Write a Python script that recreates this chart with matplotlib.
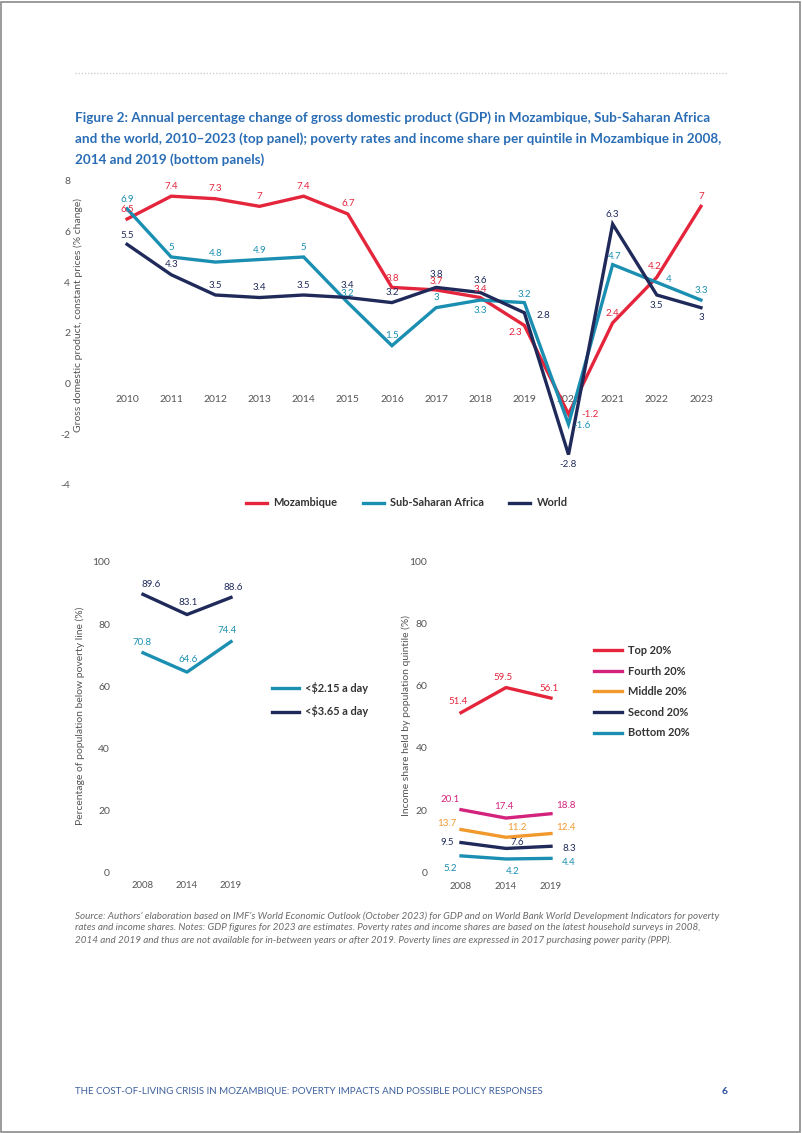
import matplotlib
matplotlib.use("Agg")
import matplotlib.pyplot as plt
from matplotlib.lines import Line2D
from matplotlib.patches import Rectangle

plt.rcParams['font.family'] = ['Lato', 'DejaVu Sans']

# ---------------- data ----------------
years = [2010, 2011, 2012, 2013, 2014, 2015, 2016, 2017, 2018, 2019, 2020, 2021, 2022, 2023]
mozambique = [6.5, 7.4, 7.3, 7.0, 7.4, 6.7, 3.8, 3.7, 3.4, 2.3, -1.2, 2.4, 4.2, 7.0]
ssa = [6.9, 5.0, 4.8, 4.9, 5.0, 3.2, 1.5, 3.0, 3.3, 3.2, -1.6, 4.7, 4.0, 3.3]
world = [5.5, 4.3, 3.5, 3.4, 3.5, 3.4, 3.2, 3.8, 3.6, 2.8, -2.8, 6.3, 3.5, 3.0]

survey_years = ['2008', '2014', '2019']
pov_215 = [70.8, 64.6, 74.4]
pov_365 = [89.6, 83.1, 88.6]

quintile_names = ['Top 20%', 'Fourth 20%', 'Middle 20%', 'Second 20%', 'Bottom 20%']
top20 = [51.4, 59.5, 56.1]
fourth20 = [20.1, 17.4, 18.8]
middle20 = [13.7, 11.2, 12.4]
second20 = [9.5, 7.6, 8.3]
bottom20 = [5.2, 4.2, 4.4]

# ---------------- styles ----------------
RED = '#e4253c'
TEAL = '#1b8fb1'
NAVY = '#1f2a5a'
MAGENTA = '#d3237d'
ORANGE = '#f2992e'
TICK = '#555555'
LW = 2.4
LEG_FS = 7.9

W, H = 802, 1133
fig = plt.figure(figsize=(W / 100, H / 100), dpi=100)


def rect(l, t, r, b):
    return [l / W, 1 - b / H, (r - l) / W, (b - t) / H]


def fx(x):
    return x / W


def fy(y):
    return 1 - y / H


# page frame
fig.patches.append(Rectangle((0.001, 0.001), 0.997, 0.997, transform=fig.transFigure,
                             fill=False, edgecolor='#8a8a8a', linewidth=1.2))
# dotted separator
fig.add_artist(Line2D([fx(75), fx(728)], [fy(73), fy(73)], color='#c8c8c8',
                      linestyle=(0, (1, 1.5)), linewidth=0.9))

title = ("Figure 2: Annual percentage change of gross domestic product (GDP) in Mozambique, Sub-Saharan Africa\n"
         "and the world, 2010\u20132023 (top panel); poverty rates and income share per quintile in Mozambique in 2008,\n"
         "2014 and 2019 (bottom panels)")
fig.text(fx(75), fy(111), title, ha='left', va='top', fontsize=9.7, fontweight='bold',
         color='#2a6db5', linespacing=1.8)


def style_axes(ax):
    for s in ax.spines.values():
        s.set_visible(False)
    ax.tick_params(length=0, colors=TICK, labelsize=7.5)


def fmt(v):
    return '%g' % v


# ---------------- top panel ----------------
ax = fig.add_axes(rect(105, 181, 723, 485))
style_axes(ax)
ax.set_xlim(2009.5, 2023.5)
ax.set_ylim(-4, 8)
ax.set_yticks([-4, -2, 0, 2, 4, 6, 8])
ax.set_yticklabels(['-4', '-2', '0', '2', '4', '6', '8'])
ax.set_xticks(years)
ax.set_xticklabels([str(y) for y in years])
ax.spines['bottom'].set_position(('data', 0))
ax.tick_params(axis='x', pad=8)
ax.tick_params(axis='y', pad=25)

series = [(mozambique, RED, 'Mozambique'), (ssa, TEAL, 'Sub-Saharan Africa'), (world, NAVY, 'World')]
for vals, col, name in series:
    ax.plot(years, vals, color=col, lw=LW, label=name, solid_joinstyle='miter', zorder=3)

moz_off = [(0, 10), (0, 10), (0, 10), (0, 10), (0, 10), (0, 10), (0, 9), (0, 8), (0, 8),
           (-9, -7), (22, 0), (0, 9), (-2, 11), (0, 10)]
ssa_off = [(0, 9), (0, 9), (0, 9), (0, 9), (0, 9), (0, 9), (0, 10), (0, 10), (0, -10),
           (0, 8), (14, -1), (2, 8), (12, 3), (0, 10)]
wld_off = [(0, 9), (0, 10), (0, 10), (0, 10), (0, 10), (0, 12), (0, 10), (0, 13), (0, 12),
           (19, -3), (0, -10), (0, 10), (0, -11), (0, -10)]

for (vals, col, _), offs in zip(series, [moz_off, ssa_off, wld_off]):
    for x, v, (dx, dy) in zip(years, vals, offs):
        ax.annotate(fmt(v), (x, v), xytext=(dx, dy), textcoords='offset pixels',
                    ha='center', va='center', fontsize=7, color=col, zorder=4)

fig.text(fx(78), fy(315), 'Gross domestic product, constant prices (% change)', rotation=90,
         ha='center', va='center', fontsize=7.5, color=TICK)

handles = [Line2D([0], [0], color=c, lw=LW) for _, c, _ in series]
fig.legend(handles, [n for _, _, n in series], loc='center', bbox_to_anchor=(fx(407), fy(503)),
           ncol=3, frameon=False, handlelength=1.9, handletextpad=0.6, columnspacing=2.3,
           prop={'size': LEG_FS, 'weight': 'bold'}, labelcolor='#333333')

# ---------------- bottom left ----------------
xs = [0, 1, 2]
axl = fig.add_axes(rect(121, 562, 253, 873))
style_axes(axl)
axl.set_xlim(-0.5, 2.5)
axl.set_ylim(0, 100)
axl.set_yticks([0, 20, 40, 60, 80, 100])
axl.set_xticks(xs)
axl.set_xticklabels(survey_years, fontsize=6.8)
axl.tick_params(axis='y', pad=8)
axl.tick_params(axis='x', pad=6)
axl.plot(xs, pov_215, color=TEAL, lw=LW, label='<$2.15 a day')
axl.plot(xs, pov_365, color=NAVY, lw=LW, label='<$3.65 a day')
for x, v, (dx, dy) in zip(xs, pov_365, [(8, 10), (1, 12), (2, 10)]):
    axl.annotate(fmt(v), (x, v), xytext=(dx, dy), textcoords='offset pixels',
                 ha='center', va='center', fontsize=7, color=NAVY)
for x, v, (dx, dy) in zip(xs, pov_215, [(-1, 10), (1, 13), (-4, 11)]):
    axl.annotate(fmt(v), (x, v), xytext=(dx, dy), textcoords='offset pixels',
                 ha='center', va='center', fontsize=7, color=TEAL)
fig.text(fx(80), fy(716), 'Percentage of population below poverty line (%)', rotation=90,
         ha='center', va='center', fontsize=7.5, color=TICK)
fig.legend([Line2D([0], [0], color=TEAL, lw=LW), Line2D([0], [0], color=NAVY, lw=LW)],
           ['<$2.15 a day', '<$3.65 a day'], loc='upper left', bbox_to_anchor=(fx(262), fy(672)),
           frameon=False, handlelength=2.5, handletextpad=0.5, labelspacing=1.05,
           prop={'size': LEG_FS, 'weight': 'bold'}, labelcolor='#333333')

# ---------------- bottom right ----------------
axr = fig.add_axes(rect(438.5, 562, 573.5, 872))
style_axes(axr)
axr.set_xlim(-0.5, 2.5)
axr.set_ylim(0, 100)
axr.set_yticks([0, 20, 40, 60, 80, 100])
axr.set_xticks(xs)
axr.set_xticklabels(survey_years, fontsize=6.8)
axr.tick_params(axis='y', pad=8)
axr.tick_params(axis='x', pad=7)
quint = [top20, fourth20, middle20, second20, bottom20]
qcols = [RED, MAGENTA, ORANGE, NAVY, TEAL]
qoffs = [[(-3, 11), (-3, 10), (-2, 10)],
         [(-11, 10), (-2, 12), (15, 8)],
         [(-14, 6), (11, 10), (15, 6)],
         [(-14, 0), (11, 6), (18, -2)],
         [(-11, -13), (7, -13), (18, -4)]]
for vals, col, name, offs in zip(quint, qcols, quintile_names, qoffs):
    axr.plot(xs, vals, color=col, lw=LW, label=name)
    for x, v, (dx, dy) in zip(xs, vals, offs):
        axr.annotate(fmt(v), (x, v), xytext=(dx, dy), textcoords='offset pixels',
                     ha='center', va='center', fontsize=7, color=col)
fig.text(fx(406), fy(715), 'Income share held by population quintile (%)', rotation=90,
         ha='center', va='center', fontsize=7.5, color=TICK)
fig.legend([Line2D([0], [0], color=c, lw=LW) for c in qcols], quintile_names,
           loc='upper left', bbox_to_anchor=(fx(584), fy(635)),
           frameon=False, handlelength=2.6, handletextpad=0.5, labelspacing=0.88,
           prop={'size': LEG_FS, 'weight': 'bold'}, labelcolor='#333333')

# ---------------- source / footer ----------------
source = ("Source: Authors\u2019 elaboration based on IMF\u2019s World Economic Outlook (October 2023) for GDP and on World Bank World Development Indicators for poverty\n"
          "rates and income shares. Notes: GDP figures for 2023 are estimates. Poverty rates and income shares are based on the latest household surveys in 2008,\n"
          "2014 and 2019 and thus are not available for in-between years or after 2019. Poverty lines are expressed in 2017 purchasing power parity (PPP).")
fig.text(fx(75), fy(911), source, ha='left', va='top', fontsize=7.1, style='italic',
         color='#6b6b6b', linespacing=1.4)

fig.text(fx(75), fy(1091), 'THE COST-OF-LIVING CRISIS IN MOZAMBIQUE: POVERTY IMPACTS AND POSSIBLE POLICY RESPONSES',
         ha='left', va='center', fontsize=7.0, color='#3c5f9c')
fig.text(fx(725), fy(1091), '6', ha='center', va='center', fontsize=7.5, fontweight='bold', color='#2a4f9a')

fig.savefig('out.png', dpi=100)
